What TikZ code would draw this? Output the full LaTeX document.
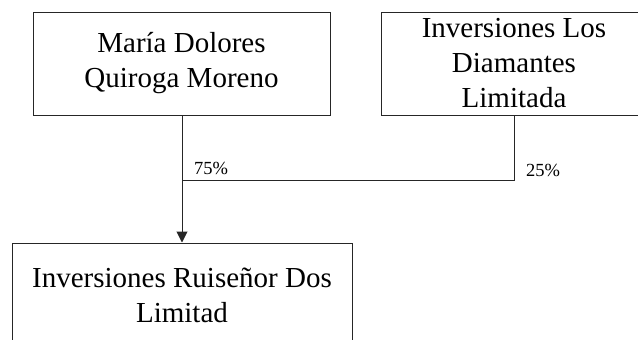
\documentclass[tikz,border=0pt]{standalone}
\usepackage{fontspec}
\setmainfont{Liberation Serif}
\usetikzlibrary{arrows.meta}
\begin{document}
\begin{tikzpicture}[x=1pt,y=-1pt,
  entity/.style={draw=black!85,line width=1pt,inner sep=0pt,align=center,
    font=\fontsize{29}{35}\selectfont},
  link/.style={draw=black!85,line width=1pt},
  pct/.style={font=\fontsize{18.5}{20}\selectfont,inner sep=0pt,anchor=west}]
\useasboundingbox (0,0) rectangle (638,340);
\clip (0,0) rectangle (638,340);
\node[entity,minimum width=297pt,minimum height=103pt] (maria) at (181.5,63.5) {María Dolores\\Quiroga Moreno};
\node[entity,minimum width=266pt,minimum height=103pt] (diam) at (514,63.5) {Inversiones Los\\Diamantes\\Limitada};
\node[entity,minimum width=340pt,minimum height=104pt] (ruis) at (182,295) {Inversiones Ruiseñor Dos\\Limitad};
\coordinate (j) at (182,180);
\draw[link,-{Triangle[length=11pt,width=11pt]}] (maria.south -| j) -- (ruis.north -| j);
\draw[link] (diam.south) |- (j);
\node[pct] (p75) at (194,168) {75\%};
\node[pct] (p25) at (526,170) {25\%};
\end{tikzpicture}
\end{document}
